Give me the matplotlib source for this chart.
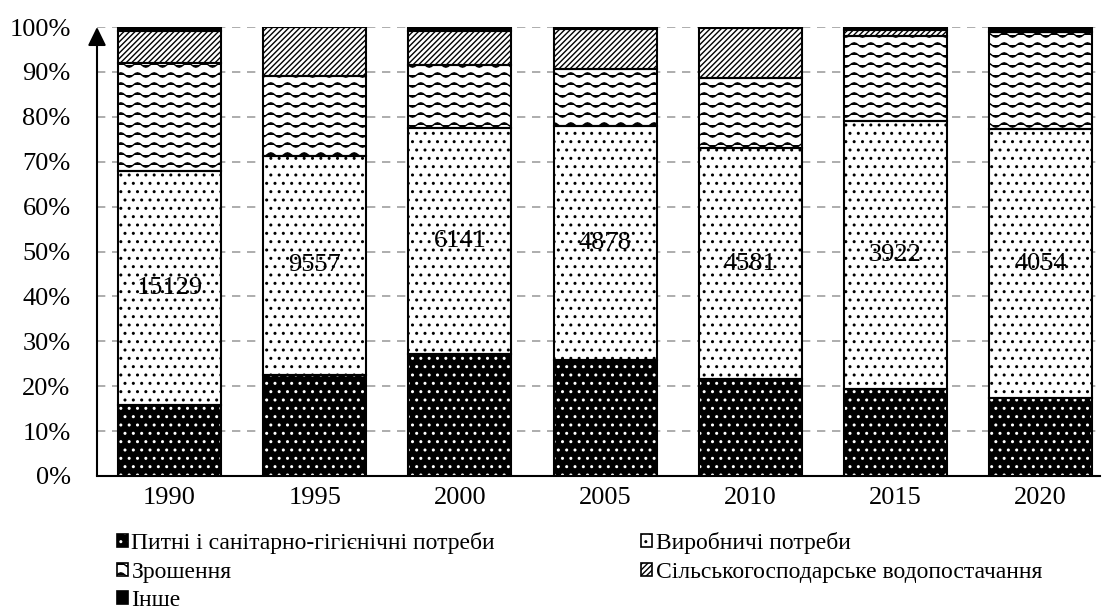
import numpy as np
import matplotlib
matplotlib.use("Agg")
import matplotlib.pyplot as plt
import matplotlib.hatch as mhatch
from matplotlib.path import Path
from matplotlib.patches import Patch
from matplotlib.legend_handler import HandlerTuple
import warnings
warnings.filterwarnings("ignore")

# ---------------- data ----------------
years = ["1990", "1995", "2000", "2005", "2010", "2015", "2020"]
drinking = [15.8, 22.5, 27.2, 25.8, 21.5, 19.3, 17.3]
production = [52.2, 48.8, 50.4, 52.1, 51.5, 59.8, 59.9]
irrigation = [23.9, 17.8, 13.9, 12.7, 15.7, 19.0, 21.6]
agriculture = [7.1, 10.9, 7.6, 9.0, 11.0, 1.2, 0.0]
other = [1.0, 0.0, 0.9, 0.4, 0.3, 0.7, 1.2]
totals = [15129, 9557, 6141, 4878, 4581, 3922, 4054]
labels = ["Питні і санітарно-гігієнічні потреби", "Виробничі потреби",
          "Зрошення", "Сільськогосподарське водопостачання", "Інше"]
yticks = [0, 10, 20, 30, 40, 50, 60, 70, 80, 90, 100]


# ---------------- custom wave hatch ----------------
class WaveHatch(mhatch.HatchPatternBase):
    def __init__(self, hatch, density):
        self.num_rows = int(hatch.count('~') * density * 5 / 3)
        self.periods = 6
        self.pts = self.periods * 8 + 1
        self.num_vertices = self.num_rows * self.pts

    def set_vertices_and_codes(self, vertices, codes):
        rows = np.linspace(0.0, 1.0, self.num_rows, endpoint=False) + 0.5 / max(self.num_rows, 1)
        xs = np.linspace(0.0, 1.0, self.pts)
        amp = 0.022
        for i, r in enumerate(rows):
            sl = slice(i * self.pts, (i + 1) * self.pts)
            vertices[sl, 0] = xs
            vertices[sl, 1] = r + amp * np.sin(2 * np.pi * self.periods * xs)
            codes[sl] = Path.LINETO
            codes[i * self.pts] = Path.MOVETO


mhatch._hatch_types.append(WaveHatch)

plt.rcParams['font.family'] = ['Liberation Serif', 'DejaVu Serif']
plt.rcParams['hatch.linewidth'] = 1.0

fig = plt.figure(figsize=(11.02, 6.13), dpi=100)
W, H = 1102, 613
ax = fig.add_axes([97 / W, 1 - 476 / H, (1100 - 97) / W, (476 - 27) / H])

x = np.arange(len(years))
bw = 0.71
series = [drinking, production, irrigation, agriculture, other]
styles = [
    dict(face='black', hatch='..', hcol='white'),
    dict(face='white', hatch='..', hcol='black'),
    dict(face='white', hatch='~', hcol='black'),
    dict(face='white', hatch='//////', hcol='black'),
    dict(face='black', hatch=None, hcol='black'),
]

bottom = np.zeros(len(years))
for vals, st in zip(series, styles):
    v = np.array(vals)
    ax.bar(x, v, bw, bottom=bottom, color=st['face'], hatch=st['hatch'],
           edgecolor=st['hcol'], linewidth=0, zorder=2)
    ax.bar(x, v, bw, bottom=bottom, fill=False, edgecolor='black',
           linewidth=1.5, zorder=3)
    bottom += v

# value labels in production segment
prod_mid = np.array(drinking) + np.array(production) / 2
for xi, ym, t in zip(x, prod_mid, totals):
    ax.text(xi, ym, str(t), ha='center', va='center', fontsize=19, zorder=4)

ax.set_xlim(-0.5, 6.41)
ax.set_ylim(0, 100)
ax.set_yticks(yticks)
ax.set_yticklabels([f"{t}%" for t in yticks], fontsize=19)
ax.set_xticks(x)
ax.set_xticklabels(years, fontsize=19)
ax.tick_params(axis='both', length=0)
ax.tick_params(axis='y', pad=19)
ax.tick_params(axis='x', pad=8)

ax.yaxis.grid(True, linestyle=(0, (5, 4)), color='#a0a0a0', linewidth=1.2, zorder=0)
ax.set_axisbelow(True)
for s in ['top', 'right', 'left']:
    ax.spines[s].set_visible(False)
ax.spines['bottom'].set_linewidth(1.5)
ax.annotate('', xy=(0, 1.0), xytext=(0, 0), xycoords='axes fraction',
            arrowprops=dict(arrowstyle='-|>,head_length=0.45,head_width=0.22',
                            color='black', lw=1.5, mutation_scale=25,
                            shrinkA=0, shrinkB=0), zorder=5)

# legend
handles = []
for st in styles:
    hp = Patch(facecolor=st['face'], hatch=st['hatch'], edgecolor=st['hcol'], linewidth=0)
    op = Patch(fill=False, edgecolor='black', linewidth=1.2)
    handles.append((hp, op))
order = [0, 2, 4, 1, 3]
leg = fig.legend([handles[i] for i in order], [labels[i] for i in order],
                 handler_map={tuple: HandlerTuple(ndivide=1, pad=0)},
                 loc='upper left', bbox_to_anchor=(117 / W, 1 - 532 / H),
                 ncol=2, frameon=False, fontsize=17, handlelength=0.46,
                 handleheight=0.46, handletextpad=0.15, columnspacing=6.2,
                 labelspacing=0.32, borderpad=0, borderaxespad=0)

fig.savefig("out.png", dpi=100)
